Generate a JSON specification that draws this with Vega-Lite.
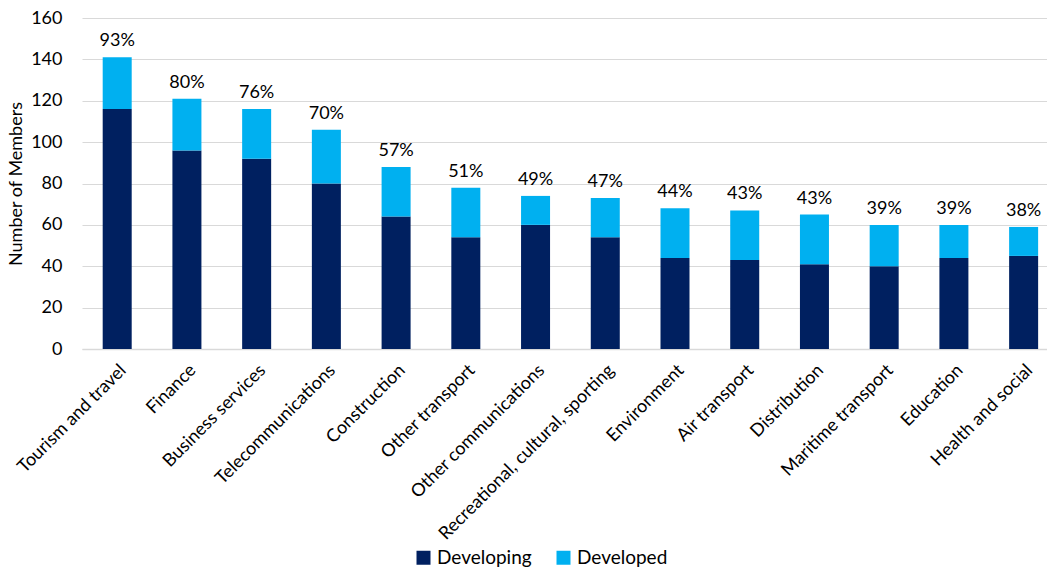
{
  "$schema": "https://vega.github.io/schema/vega-lite/v6.json",
  "autosize": "none",
  "width": 965,
  "height": 331,
  "padding": {"left": 82, "top": 18, "right": 0, "bottom": 218},
  "background": "white",
  "config": {
    "font": "Lato",
    "view": {"stroke": null},
    "axis": {"labelFont": "Lato", "titleFont": "Lato", "labelColor": "#000000", "titleColor": "#000000"},
    "axisY": {
      "title": "Number of Members",
      "titleFontSize": 18,
      "titleFontWeight": "normal",
      "titlePadding": 5,
      "labelFontSize": 18,
      "labelPadding": 20,
      "labelOverlap": false,
      "ticks": false,
      "domain": false,
      "grid": true,
      "gridColor": "#d9d9d9",
      "gridWidth": 1.2
    }
  },
  "data": {
    "values": [
      {"sector": "Tourism and travel", "Developing": 116, "Developed": 25, "pct": 0.93},
      {"sector": "Finance", "Developing": 96, "Developed": 25, "pct": 0.80},
      {"sector": "Business services", "Developing": 92, "Developed": 24, "pct": 0.76},
      {"sector": "Telecommunications", "Developing": 80, "Developed": 26, "pct": 0.70},
      {"sector": "Construction", "Developing": 64, "Developed": 24, "pct": 0.57},
      {"sector": "Other transport", "Developing": 54, "Developed": 24, "pct": 0.51},
      {"sector": "Other communications", "Developing": 60, "Developed": 14, "pct": 0.49},
      {"sector": "Recreational, cultural, sporting", "Developing": 54, "Developed": 19, "pct": 0.47},
      {"sector": "Environment", "Developing": 44, "Developed": 24, "pct": 0.44},
      {"sector": "Air transport", "Developing": 43, "Developed": 24, "pct": 0.43},
      {"sector": "Distribution", "Developing": 41, "Developed": 24, "pct": 0.43},
      {"sector": "Maritime transport", "Developing": 40, "Developed": 20, "pct": 0.39},
      {"sector": "Education", "Developing": 44, "Developed": 16, "pct": 0.39},
      {"sector": "Health and social", "Developing": 45, "Developed": 14, "pct": 0.38}
    ]
  },
  "transform": [
    {"fold": ["Developing", "Developed"], "as": ["group", "members"]}
  ],
  "encoding": {
    "x": {
      "field": "sector",
      "type": "nominal",
      "sort": null,
      "scale": {"paddingInner": 0.584, "paddingOuter": 0.212, "align": 0.7},
      "axis": {
        "title": null,
        "labelAngle": -45,
        "labelAlign": "right",
        "labelBaseline": "top",
        "labelFontSize": 18,
        "labelPadding": 12,
        "labelDx": -17,
        "labelDy": -3,
        "labelLimit": 0,
        "labelOverlap": false,
        "ticks": false,
        "domain": true,
        "domainColor": "#d9d9d9",
        "domainWidth": 1.5
      }
    }
  },
  "layer": [
    {
      "mark": {"type": "bar"},
      "encoding": {
        "y": {
          "field": "members",
          "type": "quantitative",
          "stack": "zero",
          "scale": {"domain": [0, 160]},
          "axis": {"title": "Number of Members", "values": [0, 20, 40, 60, 80, 100, 120, 140, 160]}
        },
        "color": {
          "field": "group",
          "type": "nominal",
          "scale": {"domain": ["Developing", "Developed"], "range": ["#002060", "#00B0F0"]},
          "legend": {
            "title": null,
            "orient": "none",
            "direction": "horizontal",
            "legendX": 332,
            "legendY": 530,
            "symbolType": "square",
            "symbolSize": 196,
            "symbolStrokeWidth": 0,
            "labelFontSize": 19,
            "labelColor": "#000000",
            "columnPadding": 22,
            "labelOffset": 4
          }
        },
        "order": {"field": "group", "sort": "descending"}
      }
    },
    {
      "mark": {"type": "text", "baseline": "alphabetic", "dy": -11, "fontSize": 18, "font": "Lato", "color": "#000000"},
      "encoding": {
        "y": {"aggregate": "sum", "field": "members", "type": "quantitative", "axis": {"title": "Number of Members", "values": [0, 20, 40, 60, 80, 100, 120, 140, 160]}},
        "text": {"aggregate": "max", "field": "pct", "type": "quantitative", "format": ".0%"}
      }
    }
  ]
}
